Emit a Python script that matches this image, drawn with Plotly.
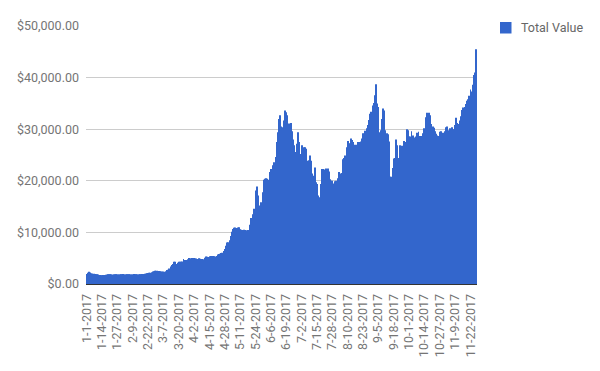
import datetime as dt
import plotly.graph_objects as go

# ---- data -------------------------------------------------------------
start_date = dt.date(2017, 1, 1)
n_days = 331
dates = [f"{(start_date + dt.timedelta(days=i)).month}-{(start_date + dt.timedelta(days=i)).day}-2017"
         for i in range(n_days)]

values_jan_feb = [
    1950, 2200, 2350, 2250, 2100, 2050, 2000, 1950, 1900, 1900,
    1850, 1750, 1700, 1700, 1720, 1750, 1800, 1850, 1870, 1880,
    1900, 1880, 1860, 1820, 1870, 1900, 1880, 1890, 1900, 1880,
    1900, 1920, 1890, 1880, 1900, 1900, 1890, 1870, 1880, 1900,
    1920, 1900, 1880, 1870, 1890, 1900, 1910, 1920, 1950, 2000,
    2050, 2100, 2150, 2180, 2200, 2300, 2400, 2450, 2550, 2550,
]
values_mar_may = [
    2550, 2500, 2450, 2400, 2380, 2400, 2380, 2450, 2700, 2770,
    3000, 3400, 3700, 3900, 4300, 4300, 3900, 4100, 4300, 4320,
    4300, 4350, 4850, 4650, 4600, 4650, 4800, 5050, 5000, 5050,
    5000, 5050, 5000, 4950, 4850, 5000, 4900, 4800, 4850, 4800,
    5100, 5350, 5300, 5250, 5400, 5420, 5400, 5450, 5400, 5350,
    5450, 5700, 5800, 5850, 6000, 6050, 6400, 6800, 7400, 8050,
    8100, 8500, 9300, 10150, 10650, 10900, 10950, 10850, 10950, 11000,
    10600,
]
values_may_jul = [
    10500, 10450, 10500, 10450, 10400, 10250, 10450, 11500, 12800, 12400,
    13500, 14600, 18100, 18900, 17150, 15200, 14750, 15850, 17800, 20200,
    20400, 20500, 20400, 20200, 21700, 22300, 22300, 23000, 23600, 24600,
    27500, 29400, 32000, 32700, 30500, 30400, 31700, 33600, 33300, 32700,
    31100, 30700, 31200, 29600, 28000, 26900, 25600, 27200, 29400, 27500,
    25200, 26900, 26200, 26500, 26500, 26200, 23900, 24000, 24900, 23900,
    21400, 21000, 22600, 19700, 19400, 17150, 16800, 19400, 22300, 22300,
]
values_jul_sep = [
    22200, 21700, 22400, 22400, 21800, 20300, 20000, 20000, 19500, 19900,
    20000, 19400, 20500, 21700, 21400, 21500, 24200, 24400, 24900, 26500,
    27700, 27300, 27200, 28200, 27900, 27500, 27000, 26600, 27000, 27500,
    27500, 27600, 28200, 29200, 29100, 29700, 30200, 30800, 31800, 33000,
    33400, 34600, 35100, 36600, 38700, 35000, 34300, 29400, 29800, 32000,
    34000, 33600, 29800, 29200, 29000, 27600, 20800, 20800, 22500, 24300,
    24400, 28000, 26900, 24400, 26900, 25400, 26800, 26600, 27700, 27500,
]
values_sep_nov = [
    30000, 29800, 28600, 28600, 29600, 28800, 28400, 28000, 28600, 29300,
    29500, 28700, 28700, 28700, 29200, 30200, 32300, 33200, 33000, 33200,
    32700, 31000, 30500, 30300, 29600, 29100, 28800, 28700, 29500, 29600,
    29200, 29300, 29600, 30400, 30500, 29800, 29200, 30200, 30400, 30000,
    30000, 30800, 32200, 31200, 31000, 31700, 32500, 33700, 34200, 34300,
    34900, 35500, 35800, 36500, 37700, 37300, 38600, 40500, 41000, 45500,
]
total_value = values_jan_feb + values_mar_may + values_may_jul + values_jul_sep + values_sep_nov

series_name = "Total Value"
tick_labels = dates[::13]
y_ticks = [0, 10000, 20000, 30000, 40000, 50000]

# ---- figure -----------------------------------------------------------
FONT = "Roboto"
GREY = "#757575"
BLUE = "#3366CC"

# plot-area geometry (pixels) used to place the hand-drawn legend
L, R, T, B, W, H = 86, 123, 26, 87, 600, 371
PW, PH = W - L - R, H - T - B


def px_x(px):
    return (px - L) / PW


def px_y(py):
    return (H - B - py) / PH


fig = go.Figure(go.Bar(
    x=dates[:len(total_value)],
    y=total_value,
    name=series_name,
    marker=dict(color=BLUE, line=dict(width=0)),
    showlegend=False,
))

fig.update_layout(
    width=W, height=H,
    margin=dict(l=L, r=R, t=T, b=B),
    paper_bgcolor="white", plot_bgcolor="white",
    bargap=0.25,
    font=dict(family=FONT, size=12.5, color=GREY),
    showlegend=False,
    shapes=[dict(type="rect", xref="paper", yref="paper",
                 x0=px_x(500), x1=px_x(511.5), y0=px_y(33.5), y1=px_y(22),
                 fillcolor=BLUE, line=dict(width=0))],
    annotations=[dict(text=series_name, xref="paper", yref="paper",
                      x=px_x(518.5), y=px_y(27.5), xanchor="left", yanchor="middle",
                      showarrow=False,
                      font=dict(family=FONT, size=12.5, color="#666666"))],
)
fig.update_xaxes(
    type="category", automargin=False,
    tickmode="array", tickvals=tick_labels, ticktext=tick_labels,
    tickangle=-90, ticks="", showgrid=False,
    showline=True, linecolor="#333333", linewidth=1,
    ticklabelstandoff=4,
    tickfont=dict(family=FONT, size=12.5, color=GREY),
)
fig.update_yaxes(
    range=[0, 50000], tickvals=y_ticks, tickformat="$,.2f", automargin=False,
    showgrid=True, gridcolor="#cccccc", gridwidth=1,
    zeroline=False, ticks="", ticklabelstandoff=6,
    tickfont=dict(family=FONT, size=12.5, color=GREY),
)

fig.write_html(
    "out.html",
    config={"displayModeBar": False},
    post_script="document.body.style.margin='0';document.body.style.overflow='hidden';",
)
